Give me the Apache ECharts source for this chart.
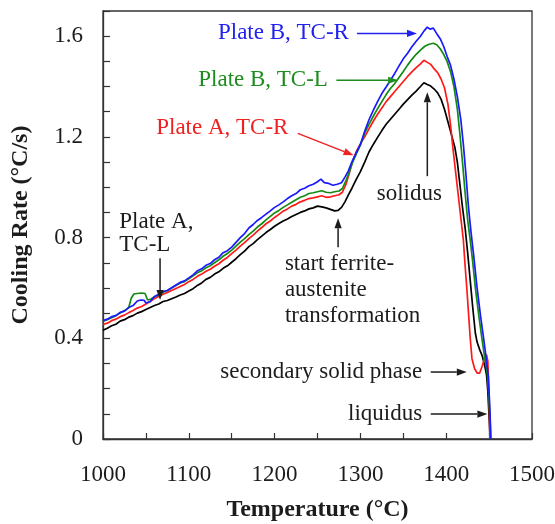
<!DOCTYPE html>
<html>
<head>
<meta charset="utf-8">
<script src="https://cdn.jsdelivr.net/npm/echarts@6/dist/echarts.min.js"></script>
<style>
  html, body { margin: 0; padding: 0; background: #fff; }
  #chart { width: 555px; height: 524px; }
</style>
</head>
<body>
<div id="chart"></div>
<script>
// Cooling rate (°C/s) versus temperature (°C), four thermocouple records
const plateBTcR = [
  [1000,0.470],[1005,0.476],[1010,0.486],[1015,0.490],[1020,0.503],[1025,0.508],[1030,0.522],[1035,0.530],
  [1040,0.548],[1044,0.552],[1048,0.551],[1050,0.540],[1055,0.546],[1060,0.566],[1065,0.575],[1070,0.586],
  [1075,0.590],[1080,0.601],[1085,0.612],[1090,0.622],[1095,0.628],[1100,0.640],[1105,0.652],[1110,0.668],
  [1115,0.676],[1120,0.690],[1125,0.697],[1130,0.712],[1135,0.722],[1140,0.740],[1145,0.748],[1150,0.762],
  [1155,0.781],[1160,0.800],[1165,0.816],[1170,0.838],[1175,0.852],[1180,0.868],[1185,0.880],[1190,0.893],
  [1195,0.906],[1200,0.920],[1205,0.930],[1210,0.942],[1215,0.955],[1220,0.966],[1225,0.975],[1230,0.990],
  [1235,0.996],[1240,1.006],[1245,1.012],[1250,1.022],[1254,1.032],[1258,1.018],[1263,1.015],[1268,1.008],
  [1273,1.012],[1278,1.018],[1282,1.040],[1286,1.065],[1290,1.100],[1295,1.135],[1300,1.170],[1305,1.222],
  [1310,1.268],[1315,1.305],[1320,1.340],[1325,1.372],[1330,1.398],[1335,1.425],[1340,1.452],[1345,1.482],
  [1350,1.510],[1355,1.532],[1360,1.558],[1365,1.580],[1370,1.600],[1374,1.620],[1378,1.636],[1381,1.628],
  [1385,1.632],[1389,1.610],[1393,1.590],[1397,1.560],[1401,1.520],[1405,1.485],[1409,1.430],[1413,1.360],
  [1417,1.270],[1420,1.170],[1423,1.050],[1426,0.920],[1429,0.820],[1432,0.730],[1436,0.600],[1440,0.490],
  [1444,0.390],[1447,0.310],[1449,0.250],[1450.5,0.150],[1451.5,0.060],[1452,0]
];
const plateBTcL = [
  [1000,0.468],[1005,0.474],[1010,0.482],[1015,0.490],[1020,0.500],[1025,0.510],[1030,0.522],[1033,0.560],
  [1036,0.576],[1040,0.578],[1045,0.580],[1049,0.578],[1052,0.552],[1056,0.556],[1060,0.565],[1065,0.572],
  [1070,0.583],[1075,0.590],[1080,0.600],[1085,0.610],[1090,0.620],[1095,0.625],[1100,0.636],[1105,0.648],
  [1110,0.660],[1115,0.668],[1120,0.680],[1125,0.688],[1130,0.700],[1135,0.712],[1140,0.726],[1145,0.737],
  [1150,0.750],[1155,0.766],[1160,0.782],[1165,0.796],[1170,0.812],[1175,0.826],[1180,0.842],[1185,0.855],
  [1190,0.870],[1195,0.884],[1200,0.898],[1205,0.908],[1210,0.920],[1215,0.930],[1220,0.940],[1225,0.950],
  [1230,0.960],[1235,0.966],[1240,0.975],[1245,0.978],[1250,0.982],[1255,0.986],[1260,0.980],[1265,0.978],
  [1270,0.982],[1275,0.985],[1279,0.995],[1283,1.025],[1287,1.060],[1291,1.100],[1295,1.130],[1300,1.168],
  [1305,1.215],[1310,1.250],[1315,1.282],[1320,1.312],[1325,1.340],[1330,1.368],[1335,1.392],[1340,1.412],
  [1345,1.436],[1350,1.460],[1355,1.485],[1360,1.508],[1365,1.528],[1370,1.545],[1375,1.560],[1380,1.568],
  [1385,1.572],[1389,1.566],[1393,1.550],[1397,1.528],[1401,1.500],[1405,1.460],[1409,1.400],[1413,1.310],
  [1416,1.210],[1419,1.100],[1422,0.980],[1425,0.870],[1428,0.790],[1431,0.700],[1434,0.600],[1438,0.490],
  [1442,0.390],[1445,0.320],[1448,0.260],[1450,0.150],[1451.3,0.060],[1452,0]
];
const plateATcR = [
  [1000,0.455],[1005,0.460],[1010,0.470],[1015,0.476],[1020,0.486],[1025,0.492],[1030,0.502],[1035,0.510],
  [1040,0.520],[1045,0.526],[1050,0.536],[1055,0.546],[1060,0.558],[1065,0.566],[1070,0.575],[1075,0.582],
  [1080,0.590],[1085,0.598],[1090,0.606],[1095,0.614],[1100,0.625],[1105,0.634],[1110,0.646],[1115,0.655],
  [1120,0.666],[1125,0.674],[1130,0.686],[1135,0.696],[1140,0.710],[1145,0.721],[1150,0.736],[1155,0.750],
  [1160,0.766],[1165,0.780],[1170,0.796],[1175,0.810],[1180,0.826],[1185,0.840],[1190,0.855],[1195,0.866],
  [1200,0.880],[1205,0.892],[1210,0.905],[1215,0.914],[1220,0.925],[1225,0.932],[1230,0.942],[1235,0.948],
  [1240,0.955],[1245,0.958],[1250,0.962],[1255,0.966],[1260,0.960],[1265,0.962],[1270,0.966],[1275,0.970],
  [1279,0.980],[1283,1.010],[1287,1.055],[1291,1.105],[1295,1.140],[1300,1.172],[1305,1.200],[1310,1.232],
  [1315,1.262],[1320,1.290],[1325,1.315],[1330,1.340],[1335,1.360],[1340,1.380],[1345,1.400],[1350,1.420],
  [1355,1.440],[1360,1.458],[1365,1.475],[1370,1.490],[1374,1.504],[1378,1.496],[1382,1.488],[1386,1.470],
  [1390,1.455],[1394,1.430],[1398,1.395],[1402,1.330],[1405,1.250],[1408,1.150],[1411,1.060],[1414,0.970],
  [1417,0.880],[1420,0.790],[1422,0.690],[1424,0.600],[1426,0.500],[1428,0.400],[1430,0.320],[1433,0.280],
  [1436,0.262],[1439,0.262],[1442,0.290],[1445,0.325],[1447,0.335],[1448.5,0.310],[1449.5,0.220],[1450.3,0.120],
  [1451,0]
];
const plateATcL = [
  [1000,0.432],[1005,0.440],[1010,0.450],[1015,0.456],[1020,0.468],[1025,0.474],[1030,0.484],[1035,0.490],
  [1040,0.500],[1045,0.506],[1050,0.514],[1055,0.522],[1060,0.530],[1065,0.536],[1070,0.546],[1075,0.550],
  [1080,0.557],[1085,0.564],[1090,0.572],[1095,0.578],[1100,0.588],[1105,0.597],[1110,0.610],[1115,0.620],
  [1120,0.634],[1125,0.642],[1130,0.655],[1135,0.664],[1140,0.678],[1145,0.688],[1150,0.702],[1155,0.716],
  [1160,0.732],[1165,0.746],[1170,0.764],[1175,0.776],[1180,0.792],[1185,0.806],[1190,0.820],[1195,0.832],
  [1200,0.845],[1205,0.856],[1210,0.866],[1215,0.874],[1220,0.884],[1225,0.892],[1230,0.900],[1235,0.906],
  [1240,0.914],[1245,0.918],[1250,0.925],[1255,0.922],[1260,0.918],[1265,0.912],[1270,0.906],[1274,0.908],
  [1278,0.920],[1282,0.942],[1286,0.970],[1290,0.995],[1295,1.030],[1300,1.062],[1305,1.100],[1310,1.140],
  [1315,1.170],[1320,1.198],[1325,1.225],[1330,1.250],[1335,1.270],[1340,1.290],[1345,1.310],[1350,1.330],
  [1355,1.348],[1360,1.366],[1365,1.382],[1370,1.400],[1374,1.415],[1378,1.408],[1382,1.402],[1386,1.390],
  [1390,1.375],[1394,1.350],[1398,1.310],[1402,1.260],[1406,1.210],[1410,1.160],[1413,1.100],[1416,1.010],
  [1419,0.920],[1422,0.840],[1425,0.740],[1428,0.630],[1431,0.520],[1434,0.420],[1436,0.385],[1439,0.355],
  [1442,0.330],[1445,0.290],[1447,0.255],[1448.5,0.190],[1449.5,0.120],[1450.5,0.050],[1451,0]
];

const xTickLabels = ['1000', '1100', '1200', '1300', '1400', '1500'];
const yTickLabels = ['0', '0.4', '0.8', '1.2', '1.6'];

const SERIF = '"Liberation Serif", "Times New Roman", serif';
const INK = '#1c1c1c';

// Callout texts and arrows, placed in data units (temperature, cooling rate)
const notes = [
  { text: 'Plate B, TC-R', at: [1134, 1.611], align: 'left', color: '#2222ee' },
  { text: 'Plate B, TC-L', at: [1111, 1.425], align: 'left', color: '#1e8c1e' },
  { text: 'Plate A, TC-R', at: [1062, 1.234], align: 'left', color: '#ee2222' },
  { text: 'Plate A,', at: [1019, 0.861], align: 'left', color: INK },
  { text: 'TC-L', at: [1019, 0.770], align: 'left', color: INK },
  { text: 'solidus', at: [1357, 0.975], align: 'center', color: INK },
  { text: 'start ferrite-', at: [1212, 0.694], align: 'left', color: INK },
  { text: 'austenite', at: [1212, 0.591], align: 'left', color: INK },
  { text: 'transformation', at: [1212, 0.488], align: 'left', color: INK },
  { text: 'secondary solid phase', at: [1372, 0.266], align: 'right', color: INK },
  { text: 'liquidus', at: [1372, 0.099], align: 'right', color: INK }
];
const pointers = [
  { from: [1296, 1.611], to: [1366, 1.611], color: '#2222ee' },
  { from: [1272, 1.425], to: [1344, 1.425], color: '#1e8c1e' },
  { from: [1227, 1.214], to: [1292, 1.127], color: '#ee2222' },
  { from: [1066.5, 0.718], to: [1066.5, 0.552], color: INK },
  { from: [1378, 1.044], to: [1378, 1.377], color: INK },
  { from: [1274, 0.762], to: [1274, 0.877], color: INK },
  { from: [1382, 0.266], to: [1424, 0.266], color: INK },
  { from: [1382, 0.099], to: [1448, 0.099], color: INK }
];

const chart = echarts.init(document.getElementById('chart'), null, { renderer: 'canvas' });

function curve(name, data, color) {
  return {
    name, type: 'line', data, showSymbol: false, smooth: false,
    lineStyle: { color, width: 1.7 }, emphasis: { disabled: true }, z: 3
  };
}

chart.setOption({
  animation: false,
  backgroundColor: '#ffffff',
  grid: {
    left: 103, right: 23, top: 11, bottom: 85, containLabel: false, outerBoundsMode: 'none',
    show: true, borderColor: '#333', borderWidth: 1.3
  },
  xAxis: {
    type: 'value', min: 1000, max: 1500, interval: 50,
    name: 'Temperature (°C)', nameLocation: 'middle', nameGap: 59,
    nameTextStyle: { fontFamily: SERIF, fontWeight: 'bold', fontSize: 24, color: INK },
    axisLine: { lineStyle: { color: '#333', width: 1.3 } },
    axisTick: { inside: true, length: 6, lineStyle: { color: '#333', width: 1.2 } },
    axisLabel: {
      fontFamily: SERIF, fontSize: 23, color: INK, margin: 24,
      formatter: v => { const s = String(Math.round(v)); return xTickLabels.includes(s) ? s : ''; }
    },
    splitLine: { show: false }
  },
  yAxis: {
    type: 'value', min: 0, max: 1.7, interval: 0.1,
    name: 'Cooling Rate (°C/s)', nameLocation: 'middle', nameGap: 70,
    nameTextStyle: { fontFamily: SERIF, fontWeight: 'bold', fontSize: 24, color: INK },
    axisLine: { lineStyle: { color: '#333', width: 1.3 } },
    axisTick: { inside: true, length: 7, lineStyle: { color: '#333', width: 1.2 } },
    axisLabel: {
      fontFamily: SERIF, fontSize: 23, color: INK, margin: 20,
      formatter: v => { const s = String(Math.round(v * 10) / 10); return yTickLabels.includes(s) ? s : ''; }
    },
    splitLine: { show: false }
  },
  series: [
    curve('Plate A, TC-L', plateATcL, '#000000'),
    curve('Plate A, TC-R', plateATcR, '#ff1a1a'),
    curve('Plate B, TC-L', plateBTcL, '#138a13'),
    curve('Plate B, TC-R', plateBTcR, '#1a1aff')
  ]
});

// Build callouts in pixel space from their data positions
const px = p => chart.convertToPixel({ gridIndex: 0 }, p);
const elements = [];
notes.forEach(n => {
  const [x, y] = px(n.at);
  elements.push({
    type: 'text', x, y, z: 10,
    style: { text: n.text, fill: n.color, font: '23px ' + SERIF, align: n.align, verticalAlign: 'middle' }
  });
});
pointers.forEach(a => {
  const [x1, y1] = px(a.from);
  const [x2, y2] = px(a.to);
  const ang = Math.atan2(y2 - y1, x2 - x1);
  const len = 10, half = 3.6;
  const bx = x2 - len * Math.cos(ang), by = y2 - len * Math.sin(ang);
  const nx = -Math.sin(ang) * half, ny = Math.cos(ang) * half;
  elements.push({
    type: 'line', z: 10,
    shape: { x1, y1, x2: bx, y2: by },
    style: { stroke: a.color, lineWidth: 1.5 }
  });
  elements.push({
    type: 'polygon', z: 10,
    shape: { points: [[x2, y2], [bx + nx, by + ny], [bx - nx, by - ny]] },
    style: { fill: a.color }
  });
});
chart.setOption({ graphic: elements });
</script>
</body>
</html>
